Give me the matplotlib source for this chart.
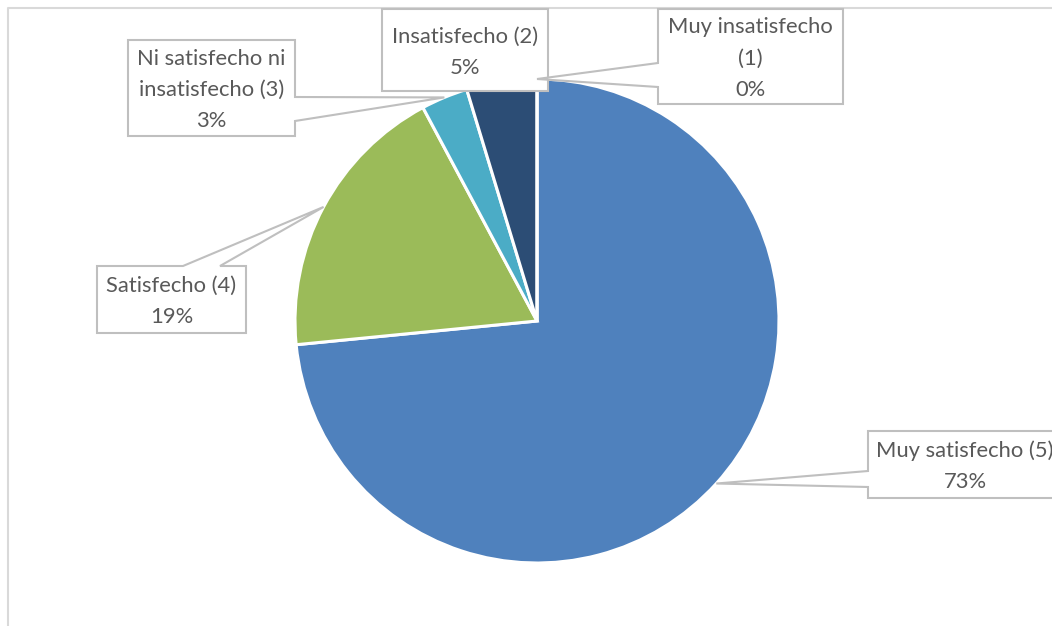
import numpy as np
import matplotlib
matplotlib.use("Agg")
import matplotlib.pyplot as plt
from matplotlib.patches import Polygon

# survey answers (counts, 64 answers)
labels = ["Muy satisfecho (5)", "Satisfecho (4)", "Ni satisfecho ni\ninsatisfecho (3)",
          "Insatisfecho (2)", "Muy insatisfecho\n(1)"]
counts = [47, 12, 2, 3, 0]
pct_labels = ["73%", "19%", "3%", "5%", "0%"]
colors = ["#4F81BD", "#9BBB59", "#4BACC6", "#2C4D75", "#8064A2"]

W, H = 1052, 626
fig = plt.figure(figsize=(W / 100, H / 100), dpi=100)
ax = fig.add_axes([0, 0, 1, 1])

def py(y):
    return H - y

cx, cy, r = 537, py(321), 242
wedges, _ = ax.pie(counts, colors=colors, startangle=90, counterclock=False,
                   center=(cx, cy), radius=r, frame=True,
                   wedgeprops=dict(edgecolor="white", linewidth=2.2))
ax.set_xlim(0, W)
ax.set_ylim(0, H)
ax.axis("off")

# chart area frame
ax.plot([8, 8, W], [0, py(8), py(8)], color="#D9D9D9", lw=1.5, zorder=1)

def tip(w):
    a = np.deg2rad((w.theta1 + w.theta2) / 2)
    return cx + r * np.cos(a), cy + r * np.sin(a)

# box (x0, y0, x1, y1) in pixels, side of the pointer and where it leaves the box
boxes = [
    ((868, 431, 1062, 498), "left", (471, 487)),
    ((97, 266, 246, 333), "top", (183, 220)),
    ((128, 40, 295, 136), "right", (97, 121)),
    ((382, 9, 548, 91), None, None),
    ((658, 9, 843, 104), "left", (63, 87)),
]

for w, lab, pct, (b, side, att) in zip(wedges, labels, pct_labels, boxes):
    x0, y0, x1, y1 = b
    tx, ty = tip(w)
    if side == "left":
        pts = [(x0, py(y0)), (x1, py(y0)), (x1, py(y1)), (x0, py(y1)),
               (x0, py(att[1])), (tx, ty), (x0, py(att[0]))]
    elif side == "right":
        pts = [(x0, py(y0)), (x1, py(y0)), (x1, py(att[0])), (tx, ty),
               (x1, py(att[1])), (x1, py(y1)), (x0, py(y1))]
    elif side == "top":
        pts = [(x0, py(y0)), (att[0], py(y0)), (tx, ty), (att[1], py(y0)),
               (x1, py(y0)), (x1, py(y1)), (x0, py(y1))]
    else:
        pts = [(x0, py(y0)), (x1, py(y0)), (x1, py(y1)), (x0, py(y1))]
    ax.add_patch(Polygon(pts, closed=True, facecolor="white", edgecolor="#BFBFBF",
                         lw=1.5, zorder=5, clip_on=False))
    ax.text((x0 + x1) / 2, py((y0 + y1) / 2 + 2), lab + "\n" + pct, ha="center",
            va="center", multialignment="center", fontsize=15.8, family="Lato",
            color="#595959", linespacing=1.7, zorder=6)

fig.savefig("out.png", dpi=100, facecolor="white")
